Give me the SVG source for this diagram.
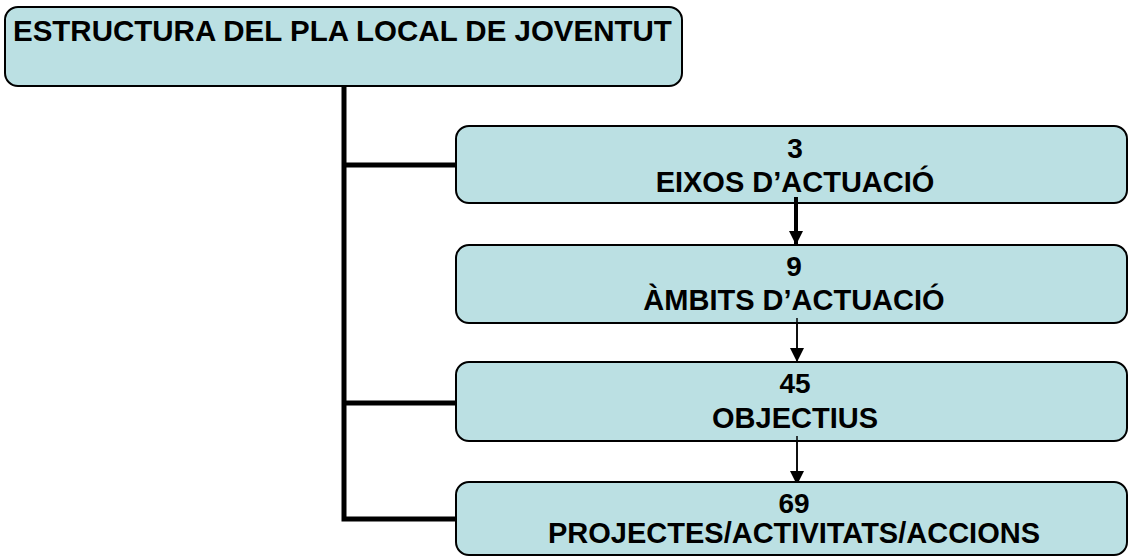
<svg xmlns="http://www.w3.org/2000/svg" width="1128" height="556" viewBox="0 0 1128 556">
<style>
.box{fill:#BBE0E3;stroke:#000;stroke-width:2}
.t{font-family:"Liberation Sans",Arial,sans-serif;font-weight:bold;fill:#000}
.n{font-size:28px;text-anchor:middle}
.l{font-size:29px;text-anchor:middle}
.trunk{fill:none;stroke:#000;stroke-width:5}
</style>
<defs>
<marker id="ah" markerUnits="userSpaceOnUse" markerWidth="16" markerHeight="14" refX="14" refY="7" orient="auto">
<path d="M0,0 L14,7 L0,14 Z" fill="#000"/>
</marker>
</defs>
<rect width="1128" height="556" fill="#fff"/>
<g id="connectors">
<path class="trunk" d="M344,86 V519 H456 M344,165 H456 M344,403 H456"/>
<line x1="796" y1="197" x2="796" y2="245" stroke="#000" stroke-width="4" marker-end="url(#ah)"/>
<line x1="797" y1="318" x2="797" y2="362" stroke="#000" stroke-width="1.5" marker-end="url(#ah)"/>
<line x1="797" y1="436" x2="797" y2="485" stroke="#000" stroke-width="1.5" marker-end="url(#ah)"/>
</g>
<g id="title">
<rect class="box" x="5" y="7" width="677" height="79" rx="13"/>
<text class="t" x="13" y="41" font-size="29.5">ESTRUCTURA DEL PLA LOCAL DE JOVENTUT</text>
</g>
<g id="eixos">
<rect class="box" x="456" y="126" width="671" height="77" rx="13"/>
<text class="t n" x="795" y="158">3</text>
<text class="t l" x="795" y="192">EIXOS D’ACTUACIÓ</text>
</g>
<g id="ambits">
<rect class="box" x="456" y="245" width="671" height="78" rx="13"/>
<text class="t n" x="794" y="276">9</text>
<text class="t l" x="794" y="310">ÀMBITS D’ACTUACIÓ</text>
</g>
<g id="objectius">
<rect class="box" x="456" y="362" width="671" height="79" rx="13"/>
<text class="t n" x="795" y="393">45</text>
<text class="t l" x="795" y="428">OBJECTIUS</text>
</g>
<g id="projectes">
<rect class="box" x="456" y="482" width="671" height="73" rx="13"/>
<text class="t n" x="794" y="513">69</text>
<text class="t l" x="794" y="543">PROJECTES/ACTIVITATS/ACCIONS</text>
</g>
<line x1="796" y1="197" x2="796" y2="232" stroke="#000" stroke-width="4"/>
<line x1="797" y1="318" x2="797" y2="350" stroke="#000" stroke-width="1.5"/>
<line x1="797" y1="436" x2="797" y2="472" stroke="#000" stroke-width="1.5"/>
</svg>
